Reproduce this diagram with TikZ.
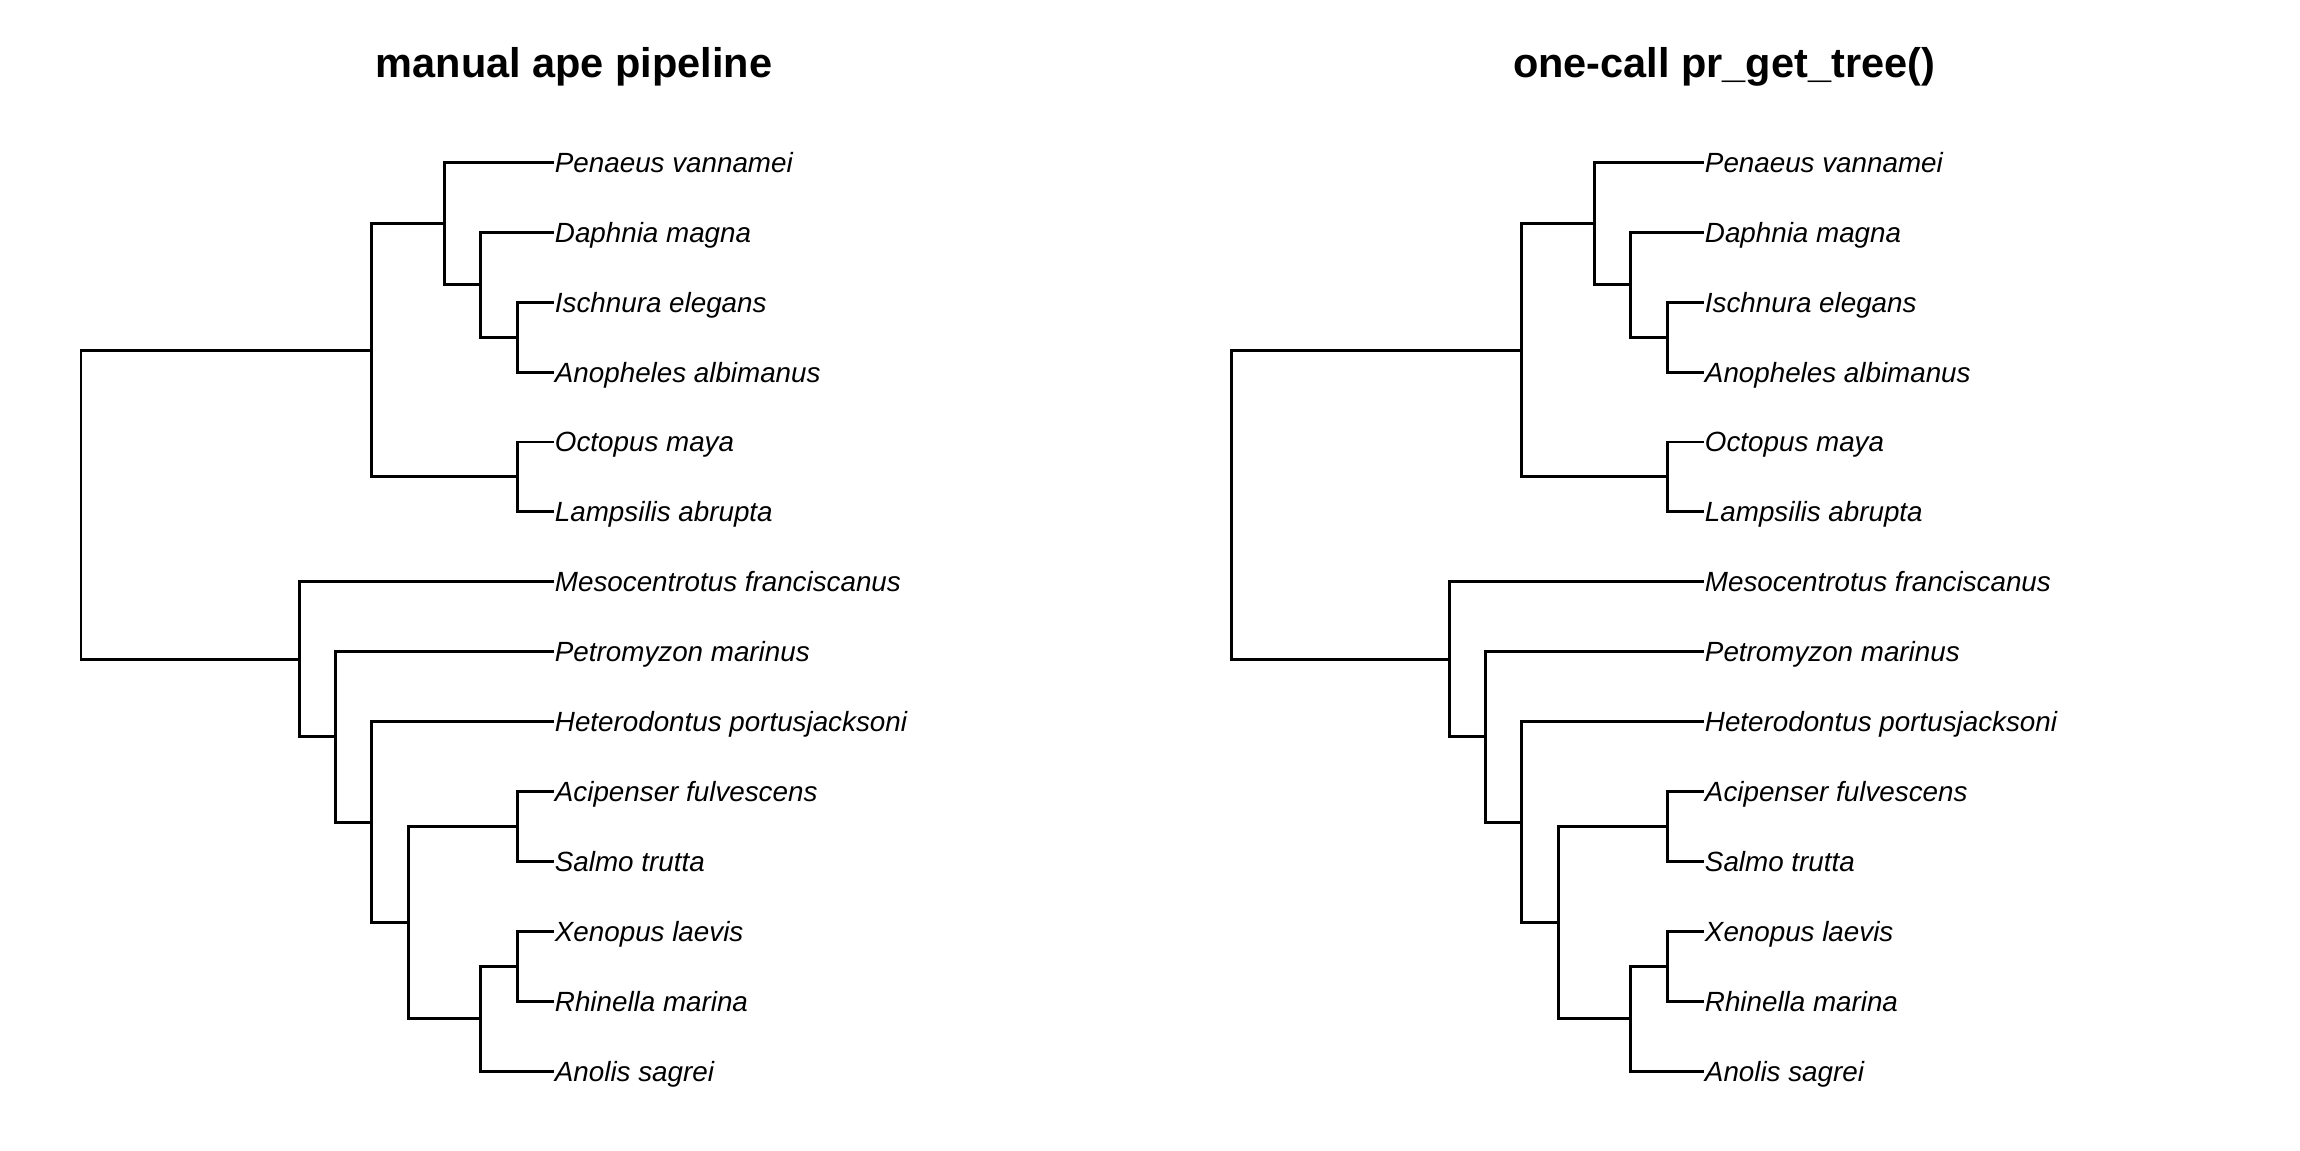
\documentclass[tikz,border=0pt]{standalone}
\usepackage{fontspec}
\setmainfont{Liberation Sans}
\usetikzlibrary{calc}
\tikzset{
  branch/.style={line width=0.85pt, black},
  tiplab/.style={anchor=west, inner xsep=0.2pt, inner ysep=0pt,
    text height=5.66pt, text depth=0pt,
    font=\fontsize{7.9}{9.5}\selectfont\itshape},
  paneltitle/.style={anchor=base, inner sep=0pt,
    font=\fontsize{11.8}{14}\selectfont\bfseries},
}

\begin{document}
\begin{tikzpicture}[x=0.01cm, y=-0.01cm]
\useasboundingbox (0,0) rectangle (2300,1150);

\def\xroot{81}     % Wurzel, linker Rand des Baums
\def\dstep{36.35}  % eine Zweiglaenge
\def\ytop{162.3}   % erstes Blatt
\def\ysep{69.92}   % Abstand der Blaetter
\def\xtitle{574}   % Mitte der Ueberschrift
\def\ytitle{77.7}

% Beide Panels zeigen denselben Baum, nur um eine halbe Breite verschoben.
% Innere Knoten liegen senkrecht mittig zwischen ihren beiden Kindern.
\foreach \pn/\dx/\ttl in {L/0/{manual ape pipeline},
                          R/1150/{one-call pr\_get\_tree()}}{
\begin{scope}[shift={(\dx,0)}]
  \node[paneltitle] (\pn title) at (\xtitle, \ytitle) {\ttl};

  \foreach \k in {0,...,13}
    \coordinate (\pn col\k) at ({\xroot+\k*\dstep}, 0);

  \foreach \i/\sp in {1/Penaeus vannamei, 2/Daphnia magna,
      3/Ischnura elegans, 4/Anopheles albimanus, 5/Octopus maya,
      6/Lampsilis abrupta, 7/Mesocentrotus franciscanus,
      8/Petromyzon marinus, 9/Heterodontus portusjacksoni,
      10/Acipenser fulvescens, 11/Salmo trutta, 12/Xenopus laevis,
      13/Rhinella marina, 14/Anolis sagrei}
    \node[tiplab] (\pn t\i) at ({\xroot+13*\dstep}, {\ytop+(\i-1)*\ysep}) {\sp};

  \foreach \nd/\cl/\ca/\cb in {D/12/t3/t4, C/11/t2/D, B/10/t1/C, O/12/t5/t6,
      A/8/B/O, I/12/t10/t11, K/12/t12/t13, J/11/K/t14, H/9/I/J,
      G/8/t9/H, F/7/t8/G, E/6/t7/F, root/0/A/E}{
    \coordinate (\pn\nd) at ($(\pn col\cl |- \pn\ca)!.5!(\pn col\cl |- \pn\cb)$);
    \draw[branch] (\pn\nd) |- (\pn\ca);
    \draw[branch] (\pn\nd) |- (\pn\cb);
  }
\end{scope}
}

\end{tikzpicture}
\end{document}
